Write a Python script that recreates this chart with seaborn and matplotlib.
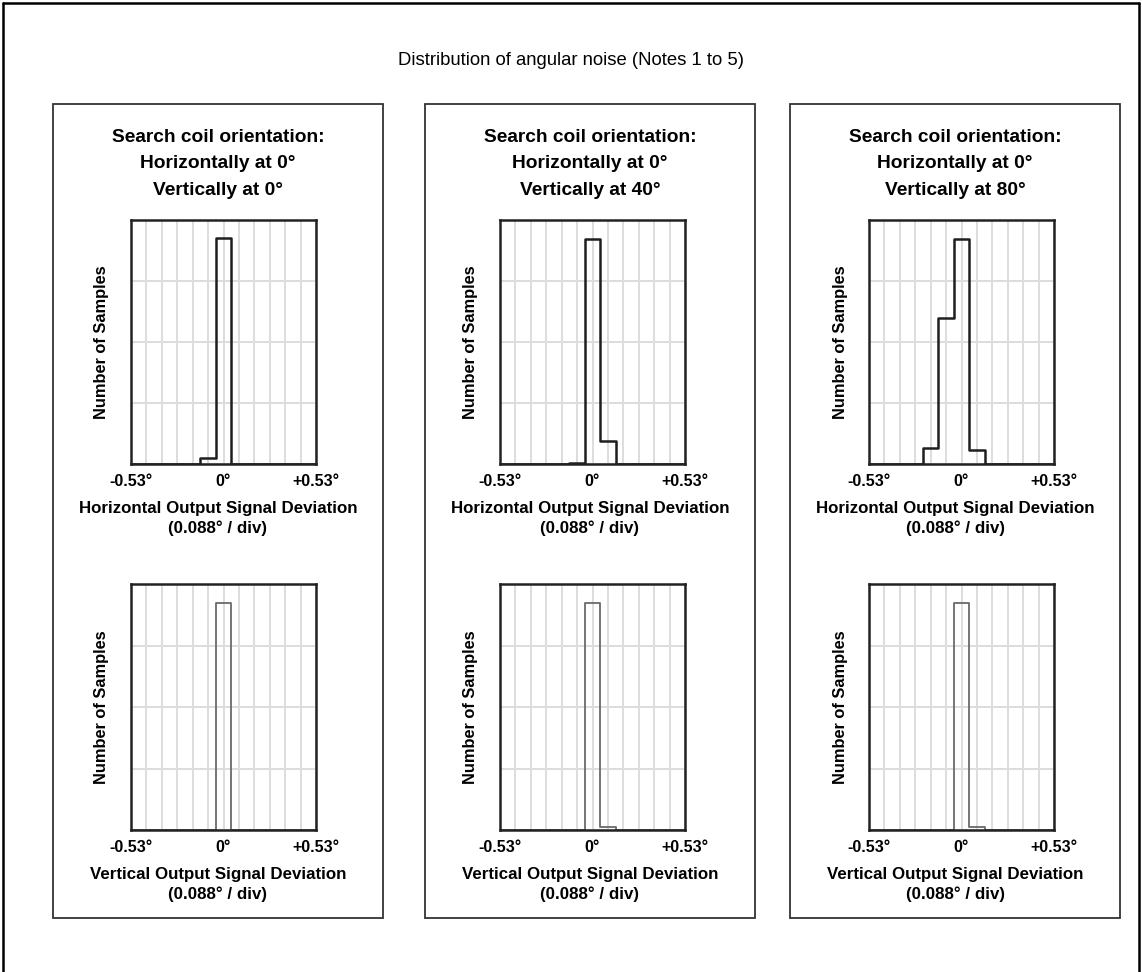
import numpy as np
import matplotlib
matplotlib.use("Agg")
import matplotlib.pyplot as plt
from matplotlib.patches import Rectangle
from matplotlib.lines import Line2D
import pandas as pd
import seaborn as sns

# bin offsets (deg) and relative sample counts (% of full scale)
offsets_deg = [-0.177, -0.088, 0.0, 0.088]
horiz_0 = [0, 2.5, 92.6, 0]
horiz_40 = [0, 0.5, 92.1, 9.5]
horiz_80 = [6.6, 59.8, 92.1, 5.7]
vert_0 = [0, 0, 92.3, 0]
vert_40 = [0, 0, 92.1, 1.4]
vert_80 = [0, 0, 92.1, 1.4]

vert_angles = ["0°", "40°", "80°"]
tick_text = ["-0.53°", "0°", "+0.53°"]
full_scale = 0.53

sns.set_style("white")
plt.rcParams["font.family"] = ["Liberation Sans", "DejaVu Sans"]
plt.rcParams["text.color"] = "black"
plt.rcParams["xtick.color"] = "black"
plt.rcParams["xtick.labelcolor"] = "black"

W, H = 1142, 972
fig = plt.figure(figsize=(W / 100, H / 100), dpi=100)

def fx(px):
    return px / W

def fy(py):
    return 1 - py / H

div = full_scale / 6
edges = (np.arange(-6.5, 7.5) * div).tolist()
grid_x = np.arange(-6, 7) * div
xlabels = [""] * 13
xlabels[0], xlabels[6], xlabels[12] = tick_text

# outer frame (no bottom edge)
for (x0, y0, x1, y1) in [(3, 3, 1139, 3), (3, 3, 3, 972), (1139, 3, 1139, 972)]:
    fig.add_artist(Line2D([fx(x0), fx(x1)], [fy(y0), fy(y1)], color="black", lw=1.8))

fig.text(0.5, fy(60), "Distribution of angular noise (Notes 1 to 5)",
         ha="center", va="center", fontsize=13.3, color="black")

box_left = [53, 425, 790]
box_w = 330
box_top, box_bot = 104, 918
ax_left = [131, 500, 869]
ax_w = 185
rows = [
    (220, 464, [horiz_0, horiz_40, horiz_80], "Horizontal Output Signal Deviation", "#1e1e1e", 1.8),
    (584, 830, [vert_0, vert_40, vert_80], "Vertical Output Signal Deviation", "#6a6a6a", 1.3),
]

for i in range(3):
    bx = box_left[i]
    fig.add_artist(Rectangle((fx(bx), fy(box_bot)), box_w / W, (box_bot - box_top) / H,
                             transform=fig.transFigure, fill=False,
                             edgecolor="#333333", lw=1.3))
    cx = bx + box_w / 2
    fig.text(fx(cx), fy(137), "Search coil orientation:", ha="center", va="center",
             fontsize=13.8, fontweight="bold", color="black")
    fig.text(fx(cx), fy(164), "Horizontally at 0°", ha="center", va="center",
             fontsize=13.8, fontweight="bold", color="black")
    fig.text(fx(cx), fy(190), "Vertically at " + vert_angles[i], ha="center", va="center",
             fontsize=13.8, fontweight="bold", color="black")

    for (top, bot, series, xlab, col, lw) in rows:
        ax = fig.add_axes([fx(ax_left[i]), fy(bot), ax_w / W, (bot - top) / H])
        df = pd.DataFrame({"offset": offsets_deg, "count": series[i]})
        sns.histplot(data=df, x="offset", weights="count", bins=edges, element="step",
                     fill=False, color=col, linewidth=lw, ax=ax)
        ax.set_xlim(-full_scale, full_scale)
        ax.set_ylim(0, 100)
        ax.set_xticks(grid_x)
        ax.set_xticklabels(xlabels, fontsize=11.5, fontweight="bold", color="black")
        ax.set_yticks([0, 25, 50, 75, 100])
        ax.set_yticklabels([])
        ax.tick_params(length=0, pad=7)
        ax.grid(True, color="#dddddd", lw=1.4)
        ax.set_xlabel("")
        ax.set_ylabel("")
        for s in ax.spines.values():
            s.set_visible(True)
            s.set_color("#222222")
            s.set_linewidth(1.8)
        fig.text(fx(ax_left[i] - 29), fy((top + bot) / 2), "Number of Samples", rotation=90,
                 ha="center", va="center", fontsize=11.8, fontweight="bold", color="black")
        fig.text(fx(cx), fy(bot + 44), xlab, ha="center", va="center",
                 fontsize=12.2, fontweight="bold", color="black")
        fig.text(fx(cx), fy(bot + 64), "(0.088° / div)", ha="center", va="center",
                 fontsize=12.2, fontweight="bold", color="black")

fig.savefig("out.png", dpi=100)
